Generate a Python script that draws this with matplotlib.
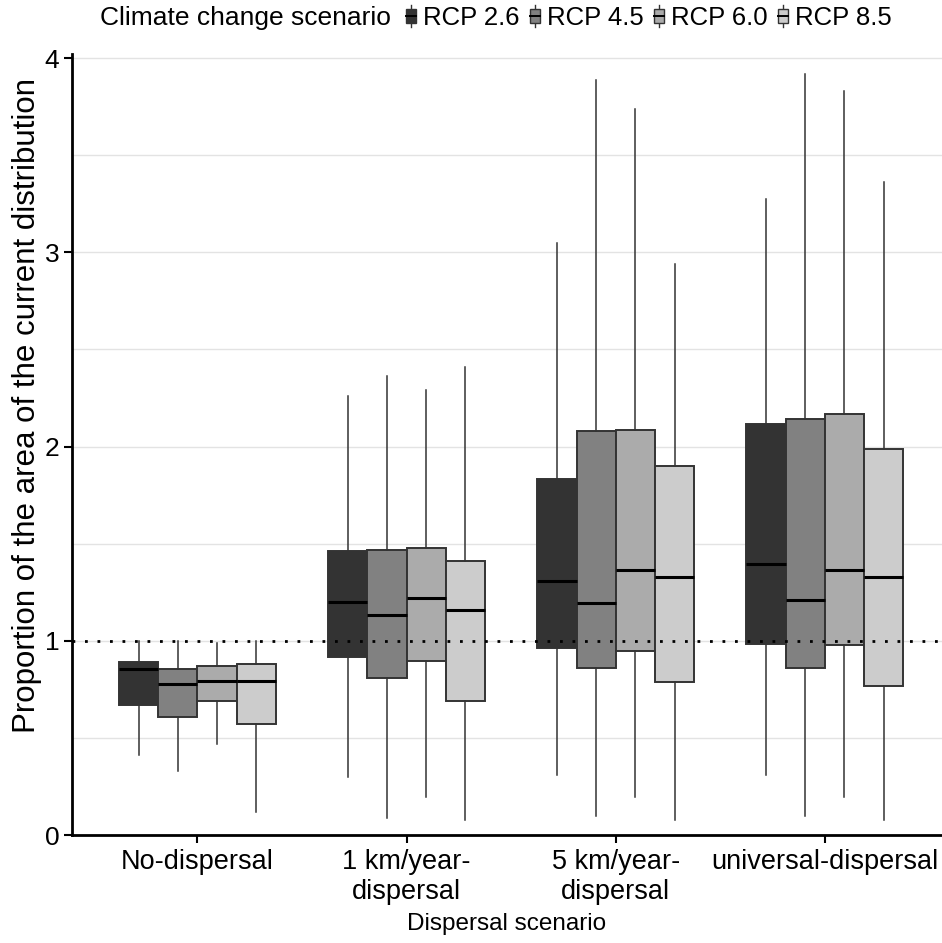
import matplotlib
matplotlib.use("Agg")
import matplotlib.pyplot as plt
from matplotlib.legend_handler import HandlerBase
from matplotlib.patches import Rectangle
from matplotlib.lines import Line2D

plt.rcParams['font.family'] = ['Liberation Sans', 'DejaVu Sans']

groups = ["No-dispersal", "1 km/year-\ndispersal", "5 km/year-\ndispersal", "universal-dispersal"]
scenarios = ["RCP 2.6", "RCP 4.5", "RCP 6.0", "RCP 8.5"]
fills = ["#333333", "#818181", "#ababab", "#cccccc"]

# one list per scenario, values in group order
whislo = {
    "RCP 2.6": [0.41, 0.30, 0.307, 0.307],
    "RCP 4.5": [0.33, 0.09, 0.097, 0.097],
    "RCP 6.0": [0.47, 0.195, 0.194, 0.194],
    "RCP 8.5": [0.12, 0.077, 0.077, 0.077],
}
q1 = {
    "RCP 2.6": [0.67, 0.915, 0.963, 0.985],
    "RCP 4.5": [0.61, 0.81, 0.858, 0.858],
    "RCP 6.0": [0.69, 0.895, 0.948, 0.98],
    "RCP 8.5": [0.57, 0.69, 0.787, 0.768],
}
med = {
    "RCP 2.6": [0.855, 1.20, 1.31, 1.393],
    "RCP 4.5": [0.78, 1.135, 1.193, 1.208],
    "RCP 6.0": [0.795, 1.22, 1.362, 1.367],
    "RCP 8.5": [0.795, 1.16, 1.33, 1.33],
}
q3 = {
    "RCP 2.6": [0.89, 1.46, 1.833, 2.115],
    "RCP 4.5": [0.855, 1.47, 2.08, 2.14],
    "RCP 6.0": [0.87, 1.48, 2.085, 2.17],
    "RCP 8.5": [0.88, 1.41, 1.90, 1.987],
}
whishi = {
    "RCP 2.6": [1.0, 2.26, 3.05, 3.277],
    "RCP 4.5": [1.0, 2.365, 3.886, 3.92],
    "RCP 6.0": [0.99, 2.29, 3.74, 3.83],
    "RCP 8.5": [1.0, 2.41, 2.94, 3.36],
}

fig = plt.figure(figsize=(9.42, 9.43), dpi=100)
ax = fig.add_axes([0.0764, 0.1145, 0.9236, 0.828])

dodge = 0.75 / len(scenarios)
for i, sc in enumerate(scenarios):
    stats = []
    for g in range(len(groups)):
        stats.append(dict(med=med[sc][g], q1=q1[sc][g], q3=q3[sc][g],
                          whislo=whislo[sc][g], whishi=whishi[sc][g], fliers=[]))
    pos = [g + 1 + (i - 1.5) * dodge for g in range(len(groups))]
    ax.bxp(stats, positions=pos, widths=dodge, patch_artist=True,
           showcaps=False, manage_ticks=False,
           boxprops=dict(facecolor=fills[i], edgecolor="#333333", linewidth=1.4),
           whiskerprops=dict(color="#333333", linewidth=1.1),
           medianprops=dict(color="black", linewidth=2.2))

ax.axhline(1, color="black", linestyle=(0, (1, 3.5)), linewidth=2, zorder=3)

ax.set_xlim(0.4, 4.56)
ax.set_ylim(0, 4.02)
ax.set_yticks([0, 1, 2, 3, 4])
ax.set_yticks([0.5, 1.5, 2.5, 3.5], minor=True)
ax.set_xticks(range(1, len(groups) + 1))
ax.set_xticklabels(groups)
ax.grid(axis="y", which="both", color="#e3e3e3", linewidth=1)
ax.set_axisbelow(True)
ax.tick_params(axis="y", which="minor", length=0)
ax.tick_params(axis="y", which="major", labelsize=19, length=6, width=1.5, pad=3)
ax.tick_params(axis="x", which="major", labelsize=19.5, length=6, width=1.5, pad=4)
for s in ["top", "right"]:
    ax.spines[s].set_visible(False)
for s in ["left", "bottom"]:
    ax.spines[s].set_linewidth(2)
ax.set_xlabel("Dispersal scenario", fontsize=17.5, labelpad=6)
ax.set_ylabel("Proportion of the area of the current distribution", fontsize=22.5)
ax.yaxis.set_label_coords(-0.034, 0.55)


class BoxKey(HandlerBase):
    def create_artists(self, legend, orig_handle, xdescent, ydescent,
                       width, height, fontsize, trans):
        cx = width / 2 - xdescent
        bw = width
        bh = height * 0.7
        y0 = -ydescent + (height - bh) / 2
        line = Line2D([cx, cx], [-ydescent - height * 0.1, -ydescent + height * 1.1],
                      color="#333333", lw=1, transform=trans)
        box = Rectangle((cx - bw / 2, y0), bw, bh, facecolor=orig_handle.get_facecolor(),
                        edgecolor="#333333", lw=1, transform=trans)
        mid = Line2D([cx - bw / 2, cx + bw / 2], [y0 + bh / 2, y0 + bh / 2],
                     color="black", lw=1.4, transform=trans)
        return [line, box, mid]


handles = [Rectangle((0, 0), 1, 1, facecolor=c) for c in fills]
fig.text(0.106, 0.981, "Climate change scenario", fontsize=19, va="center", ha="left")
fig.legend(handles, scenarios, handler_map={Rectangle: BoxKey()}, ncol=4,
           loc="center left", bbox_to_anchor=(0.431, 0.981), frameon=False,
           fontsize=18.5, handlelength=0.4, handleheight=0.75, handletextpad=0.28,
           columnspacing=0.38, borderpad=0, borderaxespad=0)

fig.savefig("out.png", dpi=100)
